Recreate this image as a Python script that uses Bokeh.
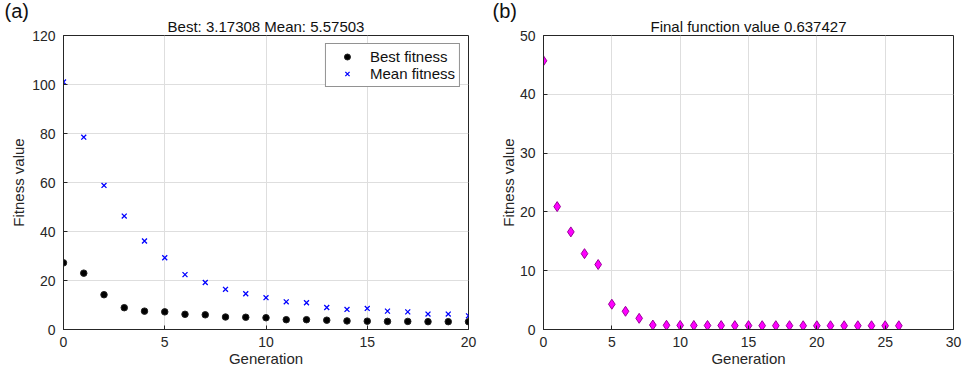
from bokeh.plotting import figure
from bokeh.layouts import row
from bokeh.models import Range1d, SingleIntervalTicker, Legend, LegendItem, Title
from bokeh.embed import file_html
from bokeh.resources import INLINE

# (a) genetic algorithm progress
ga_generation = list(range(21))
ga_best = [27.2, 23.0, 14.2, 8.9, 7.5, 7.2, 6.2, 6.0, 5.1, 5.0, 4.8,
           4.0, 4.0, 3.8, 3.5, 3.4, 3.3, 3.3, 3.2, 3.2, 3.17308]
ga_mean = [101.0, 78.5, 58.8, 46.3, 36.1, 29.3, 22.4, 19.2, 16.4, 14.6, 13.0,
           11.3, 10.9, 9.0, 8.2, 8.6, 7.5, 7.2, 6.3, 6.3, 5.57503]

# (b) second optimiser's function value per generation
opt_generation = list(range(27))
opt_value = [45.7, 20.9, 16.6, 12.9, 11.05, 4.3, 3.1, 1.9,
             0.76, 0.72, 0.70, 0.69, 0.68, 0.67, 0.66, 0.66, 0.65, 0.65, 0.65,
             0.64, 0.64, 0.64, 0.64, 0.64, 0.64, 0.64, 0.637427]

FONT = "Liberation Sans"
INK = "#262626"


def make_panel(width, border_right, x_max, y_max, xstep, ystep, heading, tag,
               tag_offset, ylabel_standoff):
    # outer heading row holds the panel letter; the chart heading sits below it
    p = figure(width=width, height=369, output_backend="svg", toolbar_location=None,
               x_range=Range1d(0, x_max), y_range=Range1d(0, y_max),
               title=Title(text=tag, align="left", offset=tag_offset, standoff=-15,
                           text_font=FONT, text_font_size="20px",
                           text_font_style="normal", text_color="#111111"),
               min_border_left=63, min_border_right=border_right,
               min_border_top=35, min_border_bottom=39)
    p.add_layout(Title(text=heading, align="center", standoff=2,
                       text_font=FONT, text_font_size="15px",
                       text_font_style="normal", text_color="#111111"), "above")
    p.outline_line_color = INK
    p.outline_line_width = 1
    p.background_fill_color = "white"
    p.border_fill_color = "white"
    for ax in p.axis:
        ax.axis_line_color = INK
        ax.major_tick_line_color = INK
        ax.major_tick_in = 4
        ax.major_tick_out = 0
        ax.minor_tick_line_color = None
        ax.major_label_text_font = FONT
        ax.major_label_text_font_size = "14px"
        ax.major_label_text_color = INK
        ax.axis_label_text_font = FONT
        ax.axis_label_text_font_size = "15px"
        ax.axis_label_text_font_style = "normal"
        ax.axis_label_text_color = INK
    p.xaxis.ticker = SingleIntervalTicker(interval=xstep)
    p.yaxis.ticker = SingleIntervalTicker(interval=ystep)
    p.xaxis.major_label_standoff = 3
    p.yaxis.major_label_standoff = 4
    p.xaxis.axis_label_standoff = 0
    p.yaxis.axis_label_standoff = ylabel_standoff
    p.xaxis.axis_label = "Generation"
    p.yaxis.axis_label = "Fitness value"
    p.grid.grid_line_color = "#dedede"
    p.grid.grid_line_width = 1
    return p


# ---- panel (a)
pa = make_panel(480, 12, 20, 120, 5, 20, "Best: 3.17308 Mean: 5.57503", "(a)", -59, 2)

best_r = pa.scatter(ga_generation, ga_best, marker="circle", size=6.5,
                    fill_color="black", line_color="#222222", line_width=1)
mean_r = pa.scatter(ga_generation, ga_mean, marker="x", size=7,
                    line_color="#0000ff", line_width=1.3)

legend = Legend(items=[LegendItem(label="Best fitness", renderers=[best_r]),
                       LegendItem(label="Mean fitness", renderers=[mean_r])],
                location="top_right")
legend.margin = 8
legend.padding = 4
legend.spacing = 0
legend.label_text_font = FONT
legend.label_text_font_size = "15px"
legend.label_text_color = "#111111"
legend.label_height = 15
legend.glyph_height = 15
legend.glyph_width = 34
legend.label_standoff = 6
legend.border_line_color = INK
legend.border_line_width = 1
legend.background_fill_alpha = 1
pa.add_layout(legend)

# ---- panel (b)
pb = make_panel(484, 11, 30, 50, 5, 10, "Final function value 0.637427", "(b)", -51, 0)

pb.scatter(opt_generation, opt_value, marker="diamond", size=10,
           fill_color="#ff00ff", line_color="#9a009a", line_width=1)

layout = row(pa, pb, spacing=0)
open("out.html", "w").write(file_html(layout, INLINE))
